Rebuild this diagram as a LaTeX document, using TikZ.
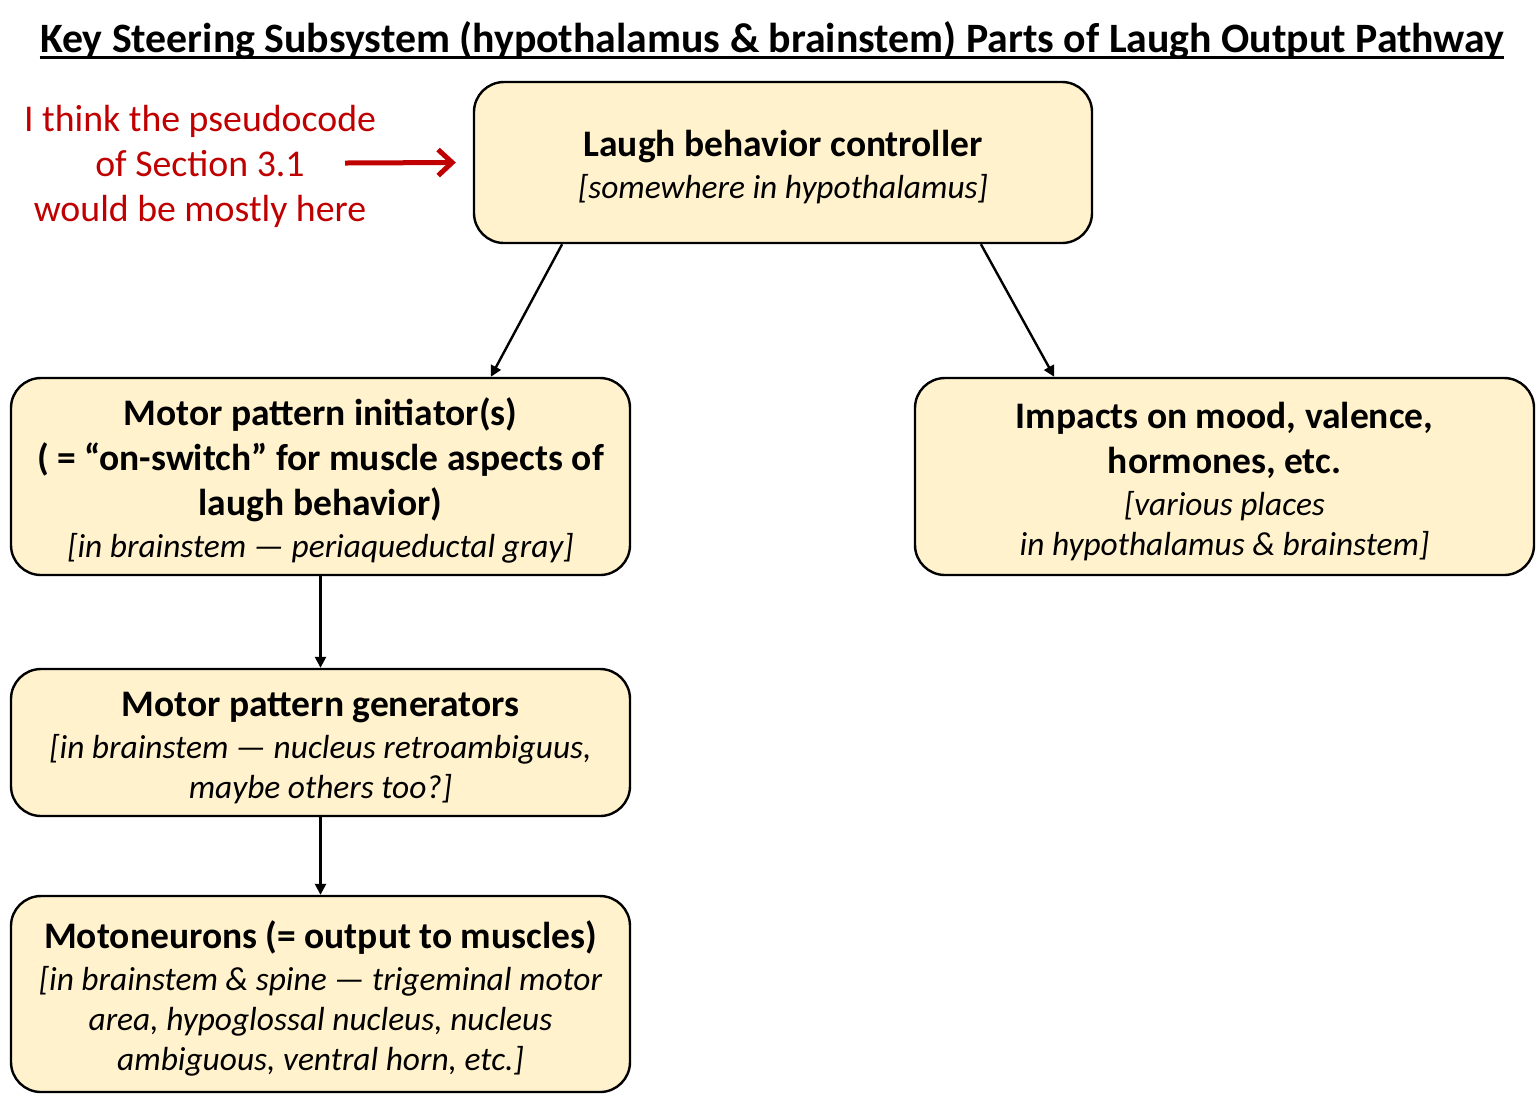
\documentclass[tikz,border=0pt]{standalone}
\usepackage{fontspec}
\setmainfont{Carlito}
\usetikzlibrary{arrows.meta,calc}
\definecolor{boxfill}{HTML}{FFF2CC}
\definecolor{notered}{HTML}{C00000}
\newcommand\subt[1]{{\fontsize{16.7}{20}\selectfont\itshape #1}}
\newcommand\topstrut{\rule{0pt}{18pt}}
\begin{document}
\begin{tikzpicture}[x=0.5pt,y=-0.5pt,
  box/.style={draw=black,line width=1.2pt,fill=boxfill,rounded corners=15pt,
    align=center,inner sep=0pt,font=\fontsize{18.75}{22.5}\selectfont},
  arr/.style={-{Triangle[length=5.5pt,width=5.5pt]},line width=1.2pt},
  redarr/.style={-{Straight Barb[length=7pt,width=13pt]},line width=2.5pt,draw=notered}]
\useasboundingbox[fill=white] (0,0) rectangle (1540,1100);

\node[anchor=base,inner sep=0pt,font=\fontsize{20.9}{25}\selectfont\bfseries] (title) at (772,52)
  {Key Steering Subsystem (hypothalamus \& brainstem) Parts of Laugh Output Pathway};
\draw[line width=1.5pt] ($(title.base west)+(0,5.5)$) -- ($(title.base east)+(0,5.5)$);

\node[box,minimum width=309pt,minimum height=80.5pt] (ctrl) at (783,162.5)
  {\topstrut\textbf{Laugh behavior controller}\\[-1.5pt]\subt{[somewhere in hypothalamus]}};

\node[box,minimum width=309.5pt,minimum height=98.5pt] (init) at (320.5,476.5)
  {\topstrut\textbf{Motor pattern initiator(s)}\\\textbf{( = “on-switch” for muscle aspects of}\\\textbf{laugh behavior)}\\[-1.5pt]\subt{[in brainstem — periaqueductal gray]}};

\node[box,minimum width=309.5pt,minimum height=98.5pt] (imp) at (1224.5,476.5)
  {\topstrut\textbf{Impacts on mood, valence,}\\\textbf{hormones, etc.}\\[-1.5pt]\subt{[various places}\\[-2.5pt]\subt{in hypothalamus \& brainstem]}};

\node[box,minimum width=309.5pt,minimum height=73.5pt] (gen) at (320.5,742.5)
  {\topstrut\textbf{Motor pattern generators}\\[-1.5pt]\subt{[in brainstem — nucleus retroambiguus,}\\[-2.5pt]\subt{maybe others too?]}};

\node[box,minimum width=309.5pt,minimum height=98pt] (moto) at (320.5,994)
  {\topstrut\textbf{Motoneurons (= output to muscles)}\\[-1.5pt]\subt{[in brainstem \& spine — trigeminal motor}\\[-2.5pt]\subt{area, hypoglossal nucleus, nucleus}\\[-2.5pt]\subt{ambiguous, ventral horn, etc.]}};

\node[align=center,text=notered,font=\fontsize{18.9}{22.5}\selectfont] (note) at (200,166)
  {I think the pseudocode\\of Section 3.1\\would be mostly here};

\coordinate (rstart) at (345,163);
\draw[redarr] (rstart) -- ($(ctrl.west)+(-17,0)$);

\draw[arr] ($(ctrl.south west)!0.144!(ctrl.south east)$) -- ($(init.north west)!0.774!(init.north east)$);
\draw[arr] ($(ctrl.south west)!0.819!(ctrl.south east)$) -- ($(imp.north west)!0.226!(imp.north east)$);
\draw[arr] (init.south) -- (gen.north);
\draw[arr] (gen.south) -- (moto.north);
\end{tikzpicture}
\end{document}
